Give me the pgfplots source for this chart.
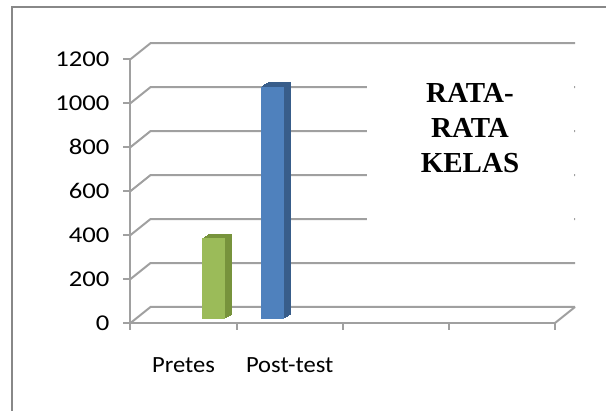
\documentclass[border=0pt]{standalone}
\usepackage{fontspec}
\setmainfont{Carlito}
\newfontfamily\numfont[FakeStretch=1.18]{Carlito}
\newfontfamily\catfont[FakeStretch=1.06]{Carlito}
\newfontfamily\titlefont{Liberation Serif}
\usepackage{pgfplots}
\pgfplotsset{compat=1.18}
\definecolor{gridgray}{HTML}{A0A0A0}
\definecolor{framegray}{HTML}{888888}
\definecolor{greenF}{HTML}{9BBB59}
\definecolor{greenS}{HTML}{77933C}
\definecolor{blueF}{HTML}{4F81BD}
\definecolor{blueS}{HTML}{385D8A}
\begin{document}
\begin{tikzpicture}
\path[use as bounding box] (-65.25pt,-44pt) rectangle (237.75pt,161.5pt);
\draw[framegray, line width=0.8pt] (-59.25pt,-60pt) -- (-59.25pt,158pt) -- (260pt,158pt);
\begin{axis}[
  at={(0,0)}, anchor=south west, scale only axis,
  width=212.25pt, height=131.9pt,
  xmin=0, xmax=4, ymin=0, ymax=1200,
  clip=false,
  axis x line*=bottom, axis y line*=left,
  axis line style={gridgray, line width=1pt},
  tick style={gridgray, line width=1pt},
  tick align=outside, major tick length=3.5pt,
  ytick={0,200,...,1200},
  xtick={0,1,2,3,4}, xticklabels={,,,,},
  extra x ticks={0.5,1.5}, extra x tick labels={Pretes,Post-test},
  extra x tick style={major tick length=0pt, xticklabel style={anchor=base, yshift=-25pt, font=\catfont\fontsize{11.6}{14}\selectfont}},
  ticklabel style={text=black},
  yticklabel style={xshift=-3.5pt, font=\numfont\fontsize{11.3}{14}\selectfont},
  /pgf/number format/assume math mode=true,
  /pgf/number format/1000 sep={},
]
\pgfplotsinvokeforeach{0,200,...,1200}{
  \draw[gridgray, line width=1pt] (axis cs:0,#1) -- ([shift={(10pt,8pt)}]axis cs:0,#1) -- ([shift={(10pt,8pt)}]axis cs:4,#1);
}
\draw[gridgray, line width=1pt] (axis cs:4,0) -- ([shift={(10pt,8pt)}]axis cs:4,0);
\pgfplotsinvokeforeach{8,7,...,1}{
  \addplot[ybar, bar width=11.6pt, bar shift=0pt, fill=greenS, draw=none, xshift=#1*0.47pt, yshift=2pt+#1*0.28pt] coordinates {(0.78,367)};
  \addplot[ybar, bar width=11.6pt, bar shift=0pt, fill=blueS, draw=none, xshift=#1*0.47pt, yshift=2pt+#1*0.28pt] coordinates {(1.335,1057)};
}
\addplot[ybar, bar width=11.6pt, bar shift=0pt, fill=greenF, draw=none, yshift=2pt] coordinates {(0.78,367)};
\addplot[ybar, bar width=11.6pt, bar shift=0pt, fill=blueF, draw=none, yshift=2pt] coordinates {(1.335,1057)};
\end{axis}
\fill[white] (118.25pt,39.5pt) rectangle (221.5pt,129.5pt);
\node[anchor=base, inner sep=0pt, font=\titlefont\bfseries\fontsize{14.5}{17.5}\selectfont] at (169.75pt,110pt) {RATA-};
\node[anchor=base, inner sep=0pt, font=\titlefont\bfseries\fontsize{14.5}{17.5}\selectfont] at (169.75pt,92.5pt) {RATA};
\node[anchor=base, inner sep=0pt, font=\titlefont\bfseries\fontsize{14.5}{17.5}\selectfont] at (169.75pt,75pt) {KELAS};
\end{tikzpicture}
\end{document}
